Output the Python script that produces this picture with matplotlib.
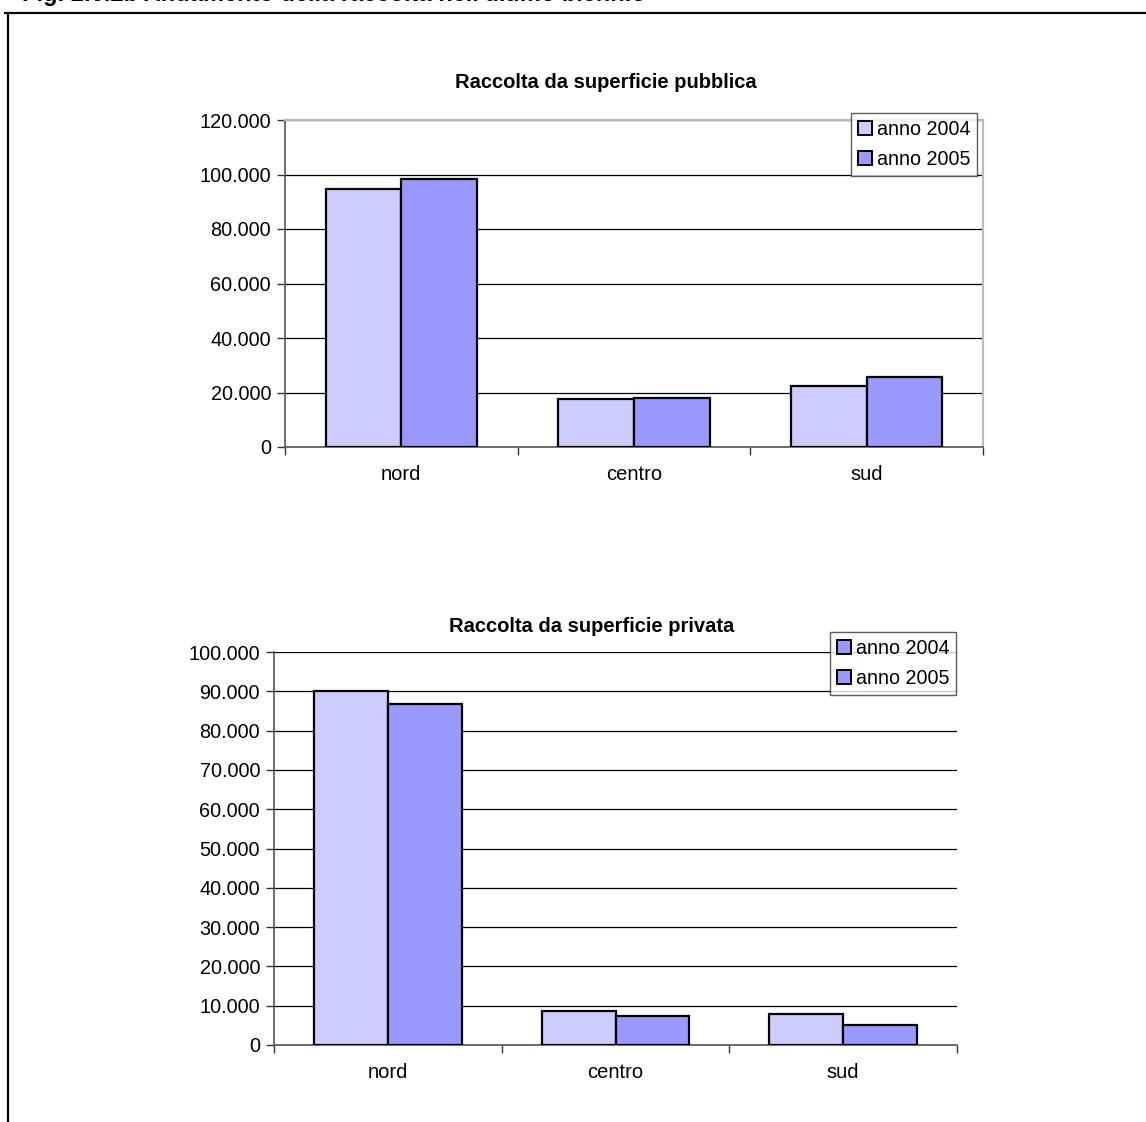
import matplotlib
matplotlib.use("Agg")
import matplotlib.pyplot as plt
from matplotlib.patches import Patch
from matplotlib.lines import Line2D
from matplotlib.ticker import FuncFormatter, MultipleLocator
import numpy as np

plt.rcParams['font.family'] = ['Liberation Sans', 'DejaVu Sans']

categories = ["nord", "centro", "sud"]
series_names = ["anno 2004", "anno 2005"]
pubblica_2004 = [94700, 17500, 22400]
pubblica_2005 = [98200, 17900, 25700]
privata_2004 = [90100, 8700, 8000]
privata_2005 = [86700, 7300, 5100]

c2004 = "#CCCCFF"
c2005 = "#9999FF"

fig = plt.figure(figsize=(11.46, 11.22), dpi=100)

# outer frame
fig.add_artist(Line2D([4/1146, 1.01], [1-12.5/1122, 1-12.5/1122], color="black", lw=1.6,
                      solid_capstyle="butt", transform=fig.transFigure))
fig.add_artist(Line2D([7.5/1146, 7.5/1146], [1-12.5/1122, -0.01], color="black", lw=1.6,
                      solid_capstyle="butt", transform=fig.transFigure))
fig.text(22/1146, 1-1/1122, "Fig. 2.6.2b Andamento della raccolta nell'ultimo biennio",
         fontsize=17, fontweight="bold", va="baseline", ha="left")

fmt = FuncFormatter(lambda v, p: f"{int(v):,}".replace(",", "."))

def draw(ax, v04, v05, ymax, step, legend_colors, border):
    x = np.arange(len(categories))
    w = 0.3245
    ax.bar(x - w/2, v04, w, color=c2004, edgecolor="black", linewidth=1.6, zorder=3)
    ax.bar(x + w/2, v05, w, color=c2005, edgecolor="black", linewidth=1.6, zorder=3)
    ax.set_xlim(-0.5, len(categories) - 0.5)
    ax.set_ylim(0, ymax)
    ax.yaxis.set_major_locator(MultipleLocator(step))
    ax.yaxis.set_major_formatter(fmt)
    ax.yaxis.grid(True, color="black", linewidth=0.9, zorder=0)
    ax.set_axisbelow(True)
    ax.set_xticks(x)
    ax.set_xticklabels(categories)
    ax.set_xticks(np.arange(len(categories) + 1) - 0.5, minor=True)
    ax.tick_params(axis="x", which="major", length=0, pad=13, labelsize=14.5)
    ax.tick_params(axis="x", which="minor", length=6, width=1, color="#333333", direction="out")
    ax.tick_params(axis="y", length=6, width=1, color="#333333", labelsize=14.3, pad=4)
    ax.spines["left"].set_color("#555555")
    ax.spines["bottom"].set_color("#555555")
    for s in ("left", "bottom"):
        ax.spines[s].set_linewidth(1.2)
    if border:
        ax.spines["top"].set_color("#BBBBBB")
        ax.spines["right"].set_color("#BBBBBB")
        ax.spines["top"].set_linewidth(1.6)
        ax.spines["right"].set_linewidth(1.6)
    else:
        ax.spines["top"].set_visible(False)
        ax.spines["right"].set_visible(False)
    handles = [Patch(facecolor=c, edgecolor="black", linewidth=1.4) for c in legend_colors]
    return handles

legend_kw = dict(loc="upper left", bbox_transform=fig.transFigure,
                 frameon=True, fancybox=False, edgecolor="#333333", fontsize=14.2,
                 handlelength=0.7, handleheight=0.7, handletextpad=0.25,
                 borderpad=0.35, labelspacing=0.55, borderaxespad=0)

ax1 = fig.add_axes([285/1146, 1-447/1122, 698/1146, 327/1122])
h1 = draw(ax1, pubblica_2004, pubblica_2005, 120000, 20000, [c2004, c2005], True)
fig.text(606/1146, 1-82/1122, "Raccolta da superficie pubblica", fontsize=14.5, fontweight="bold",
         ha="center", va="center")
leg1 = fig.legend(h1, series_names, bbox_to_anchor=(851/1146, 1-113/1122), **legend_kw)
leg1.get_frame().set_linewidth(1.0)

ax2 = fig.add_axes([274/1146, 1-1045/1122, 683/1146, 393/1122])
h2 = draw(ax2, privata_2004, privata_2005, 100000, 10000, [c2005, c2005], False)
fig.text(592/1146, 1-627/1122, "Raccolta da superficie privata", fontsize=14.5, fontweight="bold",
         ha="center", va="center")
leg2 = fig.legend(h2, series_names, bbox_to_anchor=(830/1146, 1-632/1122), **legend_kw)
leg2.get_frame().set_linewidth(1.0)

fig.savefig("out.png", dpi=100)
